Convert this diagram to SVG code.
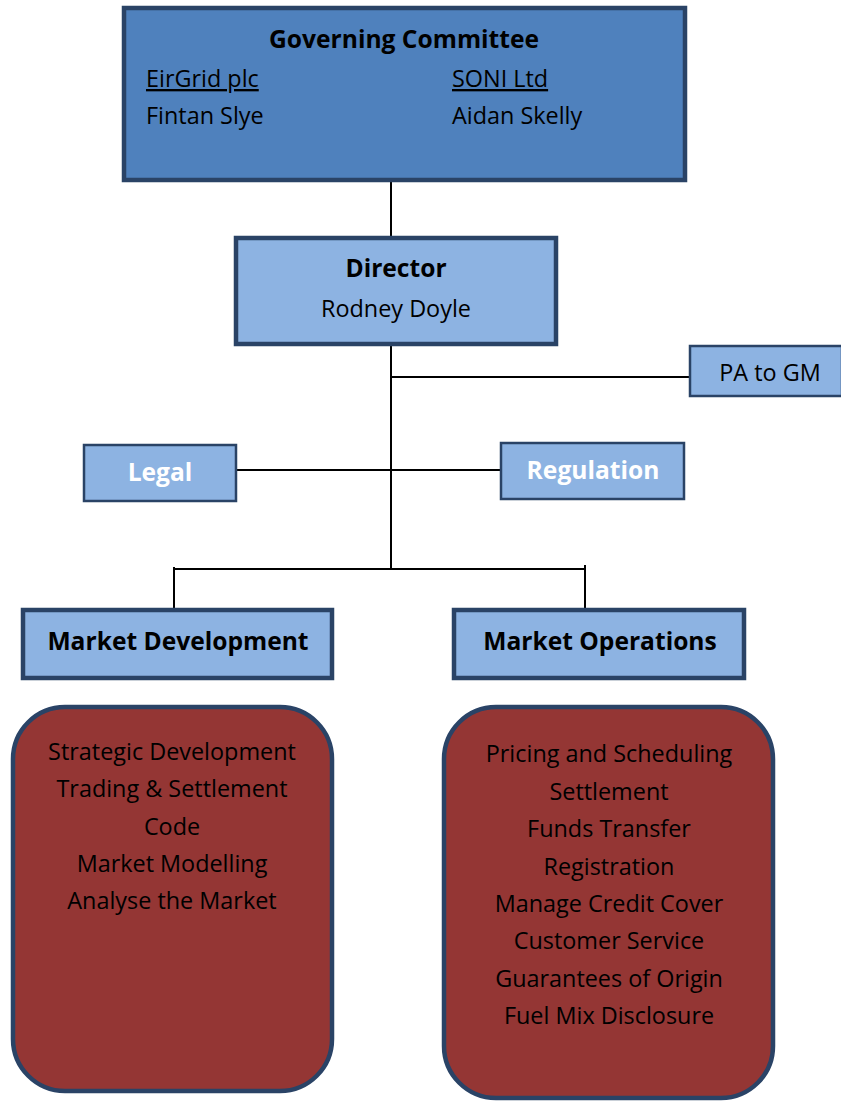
<svg xmlns="http://www.w3.org/2000/svg" width="841" height="1102" viewBox="0 0 841 1102">
<style>
.t{font-family:"Open Sans",Lato,"Liberation Sans",sans-serif;fill:#000;}
.b{font-weight:bold;}
.c{text-anchor:middle;}
.r{font-size:23.4px;}
.h{font-size:24.6px;}
.w{fill:#fff;}
.dark{fill:#4f81bd;stroke:#2a4366;stroke-width:4.5;}
.light{fill:#8db3e2;stroke:#2a4366;stroke-width:4.5;}
.thin{fill:#8db3e2;stroke:#2a4366;stroke-width:2.5;}
.red{fill:#943634;stroke:#2a4366;stroke-width:4.5;}
.ln{stroke:#000;stroke-width:2;fill:none;}
</style>
<g id="connectors">
<line class="ln" x1="391" y1="182" x2="391" y2="237"/>
<line class="ln" x1="391" y1="346" x2="391" y2="570"/>
<line class="ln" x1="391" y1="377" x2="690" y2="377"/>
<line class="ln" x1="237" y1="470" x2="500" y2="470"/>
<line class="ln" x1="173" y1="569" x2="585" y2="569"/>
<line class="ln" x1="174" y1="567" x2="174" y2="608"/>
<line class="ln" x1="585" y1="565" x2="585" y2="608"/>
</g>
<g id="governing">
<rect class="dark" x="124" y="8" width="561" height="172"/>
<text class="t b c h" x="404" y="48">Governing Committee</text>
<text class="t r" x="146" y="87" text-decoration="underline">EirGrid plc</text>
<text class="t r" x="452" y="87" text-decoration="underline">SONI Ltd</text>
<text class="t r" x="146" y="124">Fintan Slye</text>
<text class="t r" x="452" y="124">Aidan Skelly</text>
</g>
<g id="director">
<rect class="light" x="236" y="238" width="320" height="106"/>
<text class="t b c h" x="396" y="277">Director</text>
<text class="t c r" x="396" y="317">Rodney Doyle</text>
</g>
<g id="pa">
<rect class="thin" x="690" y="346" width="152" height="50"/>
<text class="t c r" x="770" y="381">PA to GM</text>
</g>
<g id="legal">
<rect class="thin" x="84" y="445" width="152" height="56"/>
<text class="t b c h w" x="160" y="481">Legal</text>
</g>
<g id="regulation">
<rect class="thin" x="501" y="443" width="183" height="56"/>
<text class="t b c h w" x="593" y="479">Regulation</text>
</g>
<g id="market-development">
<rect class="light" x="23" y="610" width="309" height="68"/>
<text class="t b c h" x="178" y="650">Market Development</text>
</g>
<g id="market-operations">
<rect class="light" x="454" y="610" width="290" height="68"/>
<text class="t b c h" x="600" y="650">Market Operations</text>
</g>
<g id="md-functions">
<rect class="red" x="13" y="707" width="319" height="384" rx="52" ry="52"/>
<text class="t c r" x="172" y="760">Strategic Development</text>
<text class="t c r" x="172" y="797">Trading &amp; Settlement</text>
<text class="t c r" x="172" y="835">Code</text>
<text class="t c r" x="172" y="872">Market Modelling</text>
<text class="t c r" x="172" y="909">Analyse the Market</text>
</g>
<g id="mo-functions">
<rect class="red" x="444" y="707" width="329" height="391" rx="52" ry="52"/>
<text class="t c r" x="609" y="762">Pricing and Scheduling</text>
<text class="t c r" x="609" y="800">Settlement</text>
<text class="t c r" x="609" y="837">Funds Transfer</text>
<text class="t c r" x="609" y="875">Registration</text>
<text class="t c r" x="609" y="912">Manage Credit Cover</text>
<text class="t c r" x="609" y="949">Customer Service</text>
<text class="t c r" x="609" y="987">Guarantees of Origin</text>
<text class="t c r" x="609" y="1024">Fuel Mix Disclosure</text>
</g>
</svg>
